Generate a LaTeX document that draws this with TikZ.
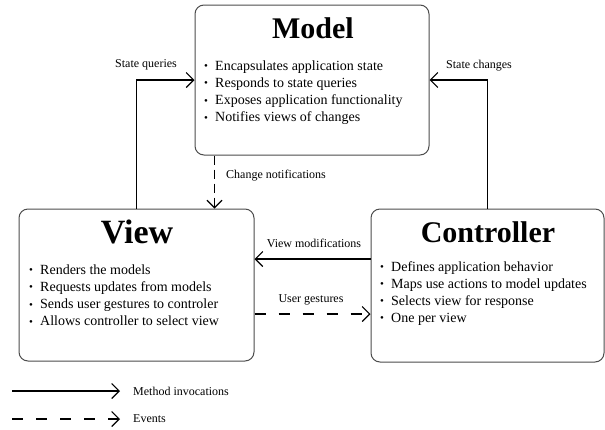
\documentclass[tikz,border=0pt]{standalone}
\usepackage{fontspec}
\setmainfont{Liberation Serif}
\usetikzlibrary{arrows.meta,calc}
\newcommand{\bul}{\makebox[11pt][l]{\raisebox{0.5pt}{\fontsize{11}{11}\selectfont •}}}
\tikzset{
  box/.style={draw=black!70, line width=1pt, rounded corners=9pt, fill=white},
  ttl/.style={font=\fontsize{30}{30}\selectfont\bfseries, inner sep=0},
  itm/.style={font=\fontsize{14}{17}\selectfont, anchor=base west, inner sep=0},
  lbl/.style={font=\fontsize{12}{12}\selectfont, inner sep=0},
  conn/.style={line width=1.1pt, -{Straight Barb[length=7.5pt,width=15pt]}},
  evt/.style={conn, dash pattern=on 11pt off 13pt},
}
\begin{document}
\begin{tikzpicture}[x=1pt,y=-1pt]
\useasboundingbox (0,0) rectangle (605,429);
% boxes
\node[box, minimum width=234pt, minimum height=150pt] (model) at (312,80) {};
\node[box, minimum width=235pt, minimum height=152pt] (view) at (136.5,285) {};
\node[box, minimum width=233pt, minimum height=153pt] (ctrl) at (487.5,285.5) {};
% titles
\node[ttl] (mt) at (313,28) {Model};
\node[ttl, font=\fontsize{34}{34}\selectfont\bfseries] (vt) at (137,232) {View};
\node[ttl] (ct) at (488,232) {Controller};
% model items
\node[itm] (m1) at (204,70) {\bul Encapsulates application state};
\node[itm] (m2) at (204,87.3) {\bul Responds to state queries};
\node[itm] (m3) at (204,104.6) {\bul Exposes application functionality};
\node[itm] (m4) at (204,121.9) {\bul Notifies views of changes};
% view items
\node[itm] (v1) at (29,274) {\bul Renders the models};
\node[itm] (v2) at (29,291.3) {\bul Requests updates from models};
\node[itm] (v3) at (29,308.6) {\bul Sends user gestures to controler};
\node[itm] (v4) at (29,325.9) {\bul Allows controller to select view};
% controller items
\node[itm] (c1) at (380,271) {\bul Defines application behavior};
\node[itm] (c2) at (380,288) {\bul Maps use actions to model updates};
\node[itm] (c3) at (380,305) {\bul Selects view for response};
\node[itm] (c4) at (380,322) {\bul One per view};
% connectors
\draw[conn] (view.north) |- (model.west);
\draw[conn] (ctrl.north) |- (model.east);
\coordinate (cn1) at ([xshift=20pt]model.south west);
\draw[conn, dash pattern=on 9pt off 5pt] (cn1) -- (cn1 |- view.north);
\coordinate (vm1) at ([yshift=26.5pt]ctrl.west);
\draw[conn] (vm1) -- (vm1 -| view.east);
\coordinate (ug1) at ([yshift=-29pt]view.east);
\draw[evt] (ug1) -- (ug1 -| ctrl.west);
% labels
\node[lbl] (lsq) at (146,65) {State queries};
\node[lbl] (lsc) at (479,66) {State changes};
\node[lbl, anchor=west] (lcn) at (226,176) {Change notifications};
\node[lbl] (lvm) at (314,243) {View modifications};
\node[lbl] (lug) at (311,300) {User gestures};
% legend
\coordinate (la) at (12,391);
\coordinate (lb) at (120,391);
\coordinate (lc) at (12,419);
\coordinate (ld) at (120,419);
\draw[conn] (la) -- (lb);
\draw[evt] (lc) -- (ld);
\node[lbl, anchor=west] (lmi) at (133,391) {Method invocations};
\node[lbl, anchor=west] (lev) at (133,419) {Events};
\end{tikzpicture}
\end{document}
